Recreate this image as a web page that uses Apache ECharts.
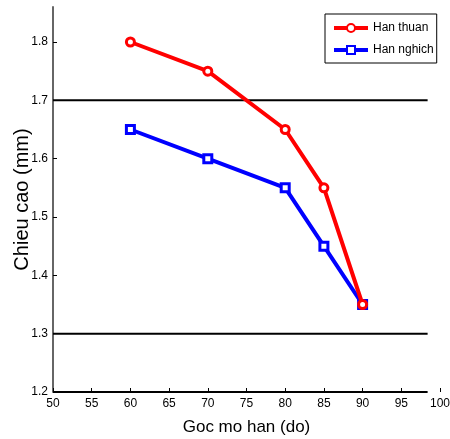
<!DOCTYPE html>
<html>
<head>
<meta charset="utf-8">
<script src="https://cdn.jsdelivr.net/npm/echarts@6/dist/echarts.min.js"></script>
<style>
  html, body { margin: 0; padding: 0; background: #fff; }
  #chart { width: 450px; height: 439px; }
</style>
</head>
<body>
<div id="chart"></div>
<script>
// Weld height versus groove angle, forward and backward welding
const angles = [60, 70, 80, 85, 90];
const hanThuan = [1.80, 1.75, 1.65, 1.55, 1.35];
const hanNghich = [1.65, 1.60, 1.55, 1.45, 1.35];
const yTicks = [1.2, 1.3, 1.4, 1.5, 1.6, 1.7, 1.8];
const limitLevels = [1.7, 1.3];
const lineSpan = [50, 98.4];

const font = '"Liberation Sans", Arial, sans-serif';

const chart = echarts.init(document.getElementById('chart'));

const limitSeries = limitLevels.map(v => ({
  type: 'line',
  data: lineSpan.map(x => [x, v]),
  symbol: 'none',
  silent: true,
  lineStyle: { color: '#000', width: 2 },
  z: 1
}));

chart.setOption({
  animation: false,
  grid: { left: 53, right: 10, top: 7, bottom: 47, outerBoundsMode: 'none', containLabel: false },
  legend: {
    left: 325, top: 14,
    orient: 'vertical',
    data: ['Han thuan', 'Han nghich'],
    itemWidth: 34, itemHeight: 10, itemGap: 10,
    padding: [8, 3, 7, 7],
    borderColor: '#000', borderWidth: 1,
    lineStyle: { width: 4 },
    textStyle: { fontFamily: font, fontSize: 12, color: '#000' }
  },
  xAxis: {
    type: 'value', min: 50, max: 100, interval: 5,
    name: 'Goc mo han (do)', nameLocation: 'middle', nameGap: 27,
    nameTextStyle: { fontFamily: font, fontSize: 17, color: '#000' },
    axisLine: { show: false },
    axisTick: { show: true, inside: true, length: 4, lineStyle: { color: '#000' } },
    axisLabel: { fontFamily: font, fontSize: 12, color: '#000', margin: 6 },
    splitLine: { show: false }
  },
  yAxis: {
    type: 'value', min: 1.2, max: 1.86,
    name: 'Chieu cao (mm)', nameLocation: 'middle', nameGap: 21, nameMoveOverlap: false,
    nameTextStyle: { fontFamily: font, fontSize: 20, color: '#000' },
    axisLine: { show: true, lineStyle: { color: '#666', width: 2 } },
    axisTick: { show: true, inside: true, length: 4, customValues: yTicks, lineStyle: { color: '#000' } },
    axisLabel: { fontFamily: font, fontSize: 12, color: '#000', margin: 5, customValues: yTicks,
      formatter: v => v.toFixed(1) },
    splitLine: { show: false }
  },
  series: [
    ...limitSeries,
    {
      type: 'line',
      data: lineSpan.map(x => [x, 1.2]),
      symbol: 'none', silent: true,
      lineStyle: { color: '#000', width: 2 },
      z: 1
    },
    {
      name: 'Han thuan', type: 'line',
      data: angles.map((a, i) => [a, hanThuan[i]]),
      symbol: 'circle', symbolSize: 8,
      itemStyle: { color: '#fff', borderColor: '#ff0000', borderWidth: 3 },
      lineStyle: { color: '#ff0000', width: 4 },
      z: 3
    },
    {
      name: 'Han nghich', type: 'line',
      data: angles.map((a, i) => [a, hanNghich[i]]),
      symbol: 'rect', symbolSize: 8,
      itemStyle: { color: '#fff', borderColor: '#0000ff', borderWidth: 3 },
      lineStyle: { color: '#0000ff', width: 4 },
      z: 2
    }
  ]
});
</script>
</body>
</html>
